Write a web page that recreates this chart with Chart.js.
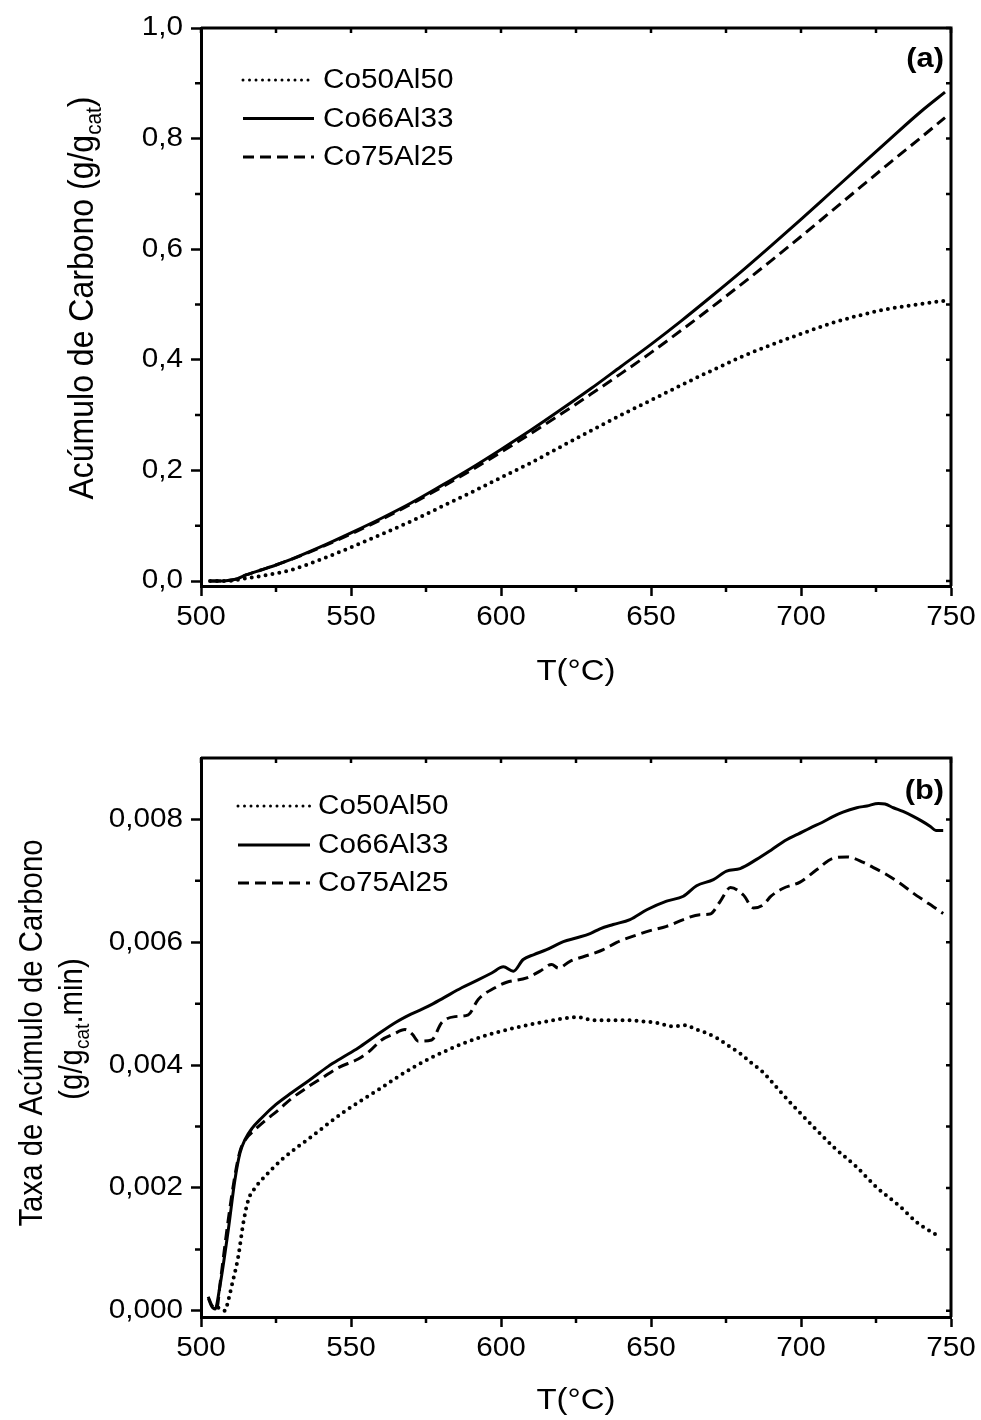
<!DOCTYPE html>
<html>
<head>
<meta charset="utf-8">
<script src="https://cdn.jsdelivr.net/npm/chart.js@4.4.0/dist/chart.umd.min.js"></script>
<style>
  body { margin: 0; background: #fff; }
  #wrap { position: relative; width: 981px; height: 1420px; }
  canvas { position: absolute; left: 0; }
</style>
</head>
<body>
<div id="wrap">
  <canvas id="chartA" width="981" height="710" style="top:0"></canvas>
  <canvas id="chartB" width="981" height="710" style="top:710px"></canvas>
</div>
<script>
const seriesNames = ['Co50Al50', 'Co66Al33', 'Co75Al25'];

// (a) carbon accumulation, g/g_cat vs T (°C)
const tempA = [503, 506, 509, 512, 515, 520, 525, 530, 540, 550, 560, 570, 580, 590, 600,
               610, 620, 630, 640, 650, 660, 670, 680, 690, 700, 710, 720, 730, 740, 748];
const accCo50 = [0, 0, 0, 0.002, 0.005, 0.009, 0.014, 0.020, 0.039, 0.061, 0.084, 0.108, 0.134, 0.160, 0.187,
                 0.214, 0.243, 0.272, 0.300, 0.327, 0.354, 0.380, 0.405, 0.427, 0.447, 0.466, 0.481, 0.493, 0.501, 0.507];
const accCo66 = [0, 0, 0.001, 0.004, 0.011, 0.020, 0.029, 0.039, 0.062, 0.087, 0.113, 0.141, 0.172, 0.204, 0.238,
                 0.273, 0.310, 0.348, 0.388, 0.428, 0.470, 0.514, 0.559, 0.606, 0.654, 0.703, 0.752, 0.801, 0.849, 0.884];
const accCo75 = [0, 0, 0.001, 0.004, 0.011, 0.020, 0.029, 0.039, 0.061, 0.085, 0.111, 0.139, 0.169, 0.200, 0.233,
                 0.267, 0.302, 0.338, 0.375, 0.413, 0.453, 0.494, 0.536, 0.579, 0.623, 0.668, 0.713, 0.758, 0.802, 0.838];

// (b) accumulation rate, g/(g_cat.min) vs T (°C)
const tempCo50 = [505.8, 507, 508, 509, 510.2, 512.4, 514.1, 515.8, 518, 520.2, 526.9, 536.9, 548, 559.1, 571.3,
                  582.4, 594.1, 604.1, 615.2, 625.8, 630.8, 637, 643, 647.4, 651.9, 657.4, 661.9, 664.1, 668.6, 672,
                  676.3, 680, 683.6, 687, 690.8, 694, 697.4, 704.1, 710.8, 718.6, 725.2, 733, 739.1, 743, 746.3];
const rateCo50 = [0.00005, 0.00001, 0.00000, 0.00015, 0.00040, 0.00088, 0.00143, 0.00181, 0.00200, 0.00213, 0.00246,
                  0.00284, 0.00325, 0.00360, 0.00398, 0.00425, 0.00447, 0.00460, 0.00471, 0.00478, 0.00473, 0.00473,
                  0.00473, 0.00471, 0.00469, 0.00463, 0.00465, 0.00460, 0.00452, 0.00444, 0.00430, 0.00418, 0.00403,
                  0.00390, 0.00370, 0.00352, 0.00334, 0.00300, 0.00267, 0.00234, 0.00201, 0.00170, 0.00142, 0.00130, 0.00120];

const tempCo66 = [502.5, 503.5, 504.7, 506.3, 509.1, 511.3, 513, 514.7, 517, 520.2, 525, 530.2, 536, 542.4, 547,
                  552.4, 558, 564.7, 570, 575.8, 581, 586.9, 592, 596.9, 600.8, 604.1, 607.4, 611, 615.2, 620.8,
                  625, 629.7, 633, 637.4, 643, 648.6, 655.2, 660.8, 665.2, 670.8, 675.2, 679.7, 685.2, 690, 695.2,
                  699, 703, 707, 710.8, 714, 718.6, 722, 725.8, 728, 730.8, 734, 737.4, 740, 743, 745, 747.4];
const rateCo66 = [0.00020, 0.00008, 0.00003, 0.00040, 0.00132, 0.00213, 0.00257, 0.00279, 0.00297, 0.00314, 0.00336,
                  0.00355, 0.00375, 0.00398, 0.00412, 0.00428, 0.00447, 0.00469, 0.00483, 0.00496, 0.00510, 0.00526,
                  0.00538, 0.00550, 0.00560, 0.00553, 0.00572, 0.00580, 0.00588, 0.00601, 0.00607, 0.00614, 0.00622,
                  0.00629, 0.00637, 0.00653, 0.00667, 0.00675, 0.00692, 0.00702, 0.00716, 0.00720, 0.00735, 0.00750,
                  0.00767, 0.00776, 0.00786, 0.00795, 0.00805, 0.00812, 0.00819, 0.00822, 0.00826, 0.00825, 0.00819,
                  0.00813, 0.00805, 0.00798, 0.00789, 0.00782, 0.00782];

const tempCo75 = [502.4, 503.5, 505.2, 506.5, 509, 511.3, 513, 515, 518, 521, 525.8, 530, 535.8, 540, 545.8, 552.4,
                  556, 560.2, 564, 568, 570.5, 572.4, 576.9, 580.2, 584.7, 589.1, 592.4, 598, 601.9, 608.6, 613,
                  616.9, 619.1, 623, 629.7, 634.1, 638.6, 644.1, 649.7, 655.2, 660.8, 666.3, 669.7, 673, 676.5,
                  680.8, 684.1, 687.4, 690, 694.1, 699.7, 705.2, 710.8, 715.2, 720.8, 724, 728.6, 733, 737.4, 741,
                  744.1, 747.4];
const rateCo75 = [0.00023, 0.00010, 0.00003, 0.00050, 0.00145, 0.00220, 0.00260, 0.00280, 0.00295, 0.00308, 0.00327,
                  0.00345, 0.00365, 0.00378, 0.00396, 0.00410, 0.00422, 0.00441, 0.00450, 0.00458, 0.00450, 0.00439,
                  0.00441, 0.00469, 0.00479, 0.00482, 0.00507, 0.00526, 0.00535, 0.00542, 0.00553, 0.00564, 0.00558,
                  0.00569, 0.00580, 0.00588, 0.00600, 0.00610, 0.00619, 0.00626, 0.00637, 0.00645, 0.00646, 0.00666,
                  0.00689, 0.00677, 0.00656, 0.00661, 0.00675, 0.00688, 0.00698, 0.00718, 0.00737, 0.00739, 0.00730,
                  0.00722, 0.00710, 0.00696, 0.00680, 0.00668, 0.00658, 0.00647];

const xTicks = { min: 500, max: 750, step: 50, minor: [525, 575, 625, 675, 725] };
const yTicksA = { min: -0.009, max: 1.0, step: 0.2, minor: [0.1, 0.3, 0.5, 0.7, 0.9] };
const yTicksB = { min: -0.0001, max: 0.009, step: 0.002, minor: [0.001, 0.003, 0.005, 0.007] };

const FONT = "'Liberation Sans', Arial, sans-serif";
const SX = 1.1; // the original figure's text is slightly wide

function pairs(xs, ys) {
  return xs.map((x, i) => ({ x: x, y: ys[i] }));
}

const lineStyles = [
  { borderDash: [0, 7], borderWidth: 4, borderCapStyle: 'round' },   // dotted
  { borderDash: [], borderWidth: 3, borderCapStyle: 'butt' },        // solid
  { borderDash: [11, 6], borderWidth: 3, borderCapStyle: 'butt' }    // dashed
];

function makeDatasets(lists) {
  return lists.map((pts, i) => Object.assign({
    label: seriesNames[i],
    data: pts,
    borderColor: '#000',
    pointRadius: 0,
    cubicInterpolationMode: 'monotone',
    fill: false
  }, lineStyles[i]));
}

function wideText(ctx, text, x, y, align, font) {
  ctx.save();
  ctx.translate(x, y);
  ctx.scale(SX, 1);
  ctx.font = font;
  ctx.textAlign = align;
  ctx.fillText(text, 0, 0);
  ctx.restore();
}

// label with optional subscript, centred on (x, y), optionally rotated
function richText(ctx, parts, size, x, y, rotate) {
  ctx.save();
  ctx.translate(x, y);
  if (rotate) { ctx.rotate(-Math.PI / 2); ctx.scale(1, SX); } else ctx.scale(SX, 1);
  ctx.textBaseline = 'alphabetic';
  ctx.textAlign = 'left';
  let total = 0;
  parts.forEach(p => {
    ctx.font = (p.sub ? size * 0.65 : size) + 'px ' + FONT;
    total += ctx.measureText(p.t).width;
  });
  let pos = -total / 2;
  parts.forEach(p => {
    ctx.font = (p.sub ? size * 0.65 : size) + 'px ' + FONT;
    ctx.fillText(p.t, pos, p.sub ? size * 0.22 : 0);
    pos += ctx.measureText(p.t).width;
  });
  ctx.restore();
}

// frame, minor/inward ticks, tick labels, titles, legend and panel tag
function makeDecor(o) {
  return {
    id: 'decor',
    afterDraw(chart) {
      const { ctx, chartArea: a, scales: { x, y } } = chart;
      ctx.save();
      ctx.strokeStyle = '#000';
      ctx.fillStyle = '#000';
      ctx.lineWidth = 3;
      ctx.beginPath();
      ctx.moveTo(a.left, a.top);
      ctx.lineTo(a.right, a.top);
      ctx.lineTo(a.right, a.bottom);
      ctx.stroke();

      ctx.lineWidth = 2.5;
      ctx.beginPath();
      o.xMinor.forEach(v => {
        const px = x.getPixelForValue(v);
        ctx.moveTo(px, a.bottom); ctx.lineTo(px, a.bottom + 6);
      });
      o.yMinor.forEach(v => {
        const py = y.getPixelForValue(v);
        ctx.moveTo(a.left, py); ctx.lineTo(a.left - 6, py);
      });
      x.ticks.map(t => t.value).concat(o.xMinor).forEach(v => {
        const px = x.getPixelForValue(v);
        ctx.moveTo(px, a.top); ctx.lineTo(px, a.top + 5);
      });
      y.ticks.map(t => t.value).concat(o.yMinor).forEach(v => {
        const py = y.getPixelForValue(v);
        ctx.moveTo(a.right, py); ctx.lineTo(a.right - 5, py);
      });
      ctx.stroke();

      // tick labels
      const tf = '27px ' + FONT;
      ctx.textBaseline = 'middle';
      x.ticks.forEach(t => wideText(ctx, String(t.value), x.getPixelForValue(t.value), a.bottom + 32, 'center', tf));
      y.ticks.forEach(t => wideText(ctx, o.fmt(t.value), a.left - 18, y.getPixelForValue(t.value), 'right', tf));

      // legend
      chart.data.datasets.forEach((ds, i) => {
        const ly = o.legend.y[i];
        ctx.save();
        ctx.lineWidth = i === 0 ? 3 : ds.borderWidth;
        ctx.lineCap = ds.borderCapStyle;
        ctx.setLineDash(i === 0 ? [0, 6.5] : ds.borderDash);
        ctx.beginPath();
        ctx.moveTo(o.legend.x0, ly);
        ctx.lineTo(o.legend.x1, ly);
        ctx.stroke();
        ctx.restore();
        wideText(ctx, ds.label, o.legend.tx, ly + 1, 'left', tf);
      });

      // panel tag
      ctx.textBaseline = 'alphabetic';
      wideText(ctx, o.tag.text, o.tag.x, o.tag.y, 'right', 'bold 28px ' + FONT);

      // axis titles
      richText(ctx, [{ t: 'T(°C)' }], 30, (a.left + a.right) / 2, o.xTitleY, false);
      o.yTitles.forEach(tl => richText(ctx, tl.parts, tl.size, tl.x, tl.cy, true));
      ctx.restore();
    }
  };
}

function buildOptions(yt, xHeight, padTop) {
  return {
    responsive: false,
    animation: false,
    devicePixelRatio: 1,
    layout: { padding: { top: padTop, right: 30, left: 0, bottom: 0 } },
    plugins: { legend: { display: false }, tooltip: { enabled: false } },
    scales: {
      x: {
        type: 'linear',
        min: xTicks.min, max: xTicks.max,
        ticks: { stepSize: xTicks.step, display: false },
        grid: { drawOnChartArea: false, drawTicks: true, tickLength: 10, tickWidth: 2.5, tickColor: '#000' },
        border: { display: true, color: '#000', width: 3 },
        afterFit(s) { s.height = xHeight; }
      },
      y: {
        type: 'linear',
        min: yt.min, max: yt.max,
        ticks: { stepSize: yt.step, includeBounds: false, display: false },
        grid: { drawOnChartArea: false, drawTicks: true, tickLength: 10, tickWidth: 2.5, tickColor: '#000' },
        border: { display: true, color: '#000', width: 3 },
        afterFit(s) { s.width = 201; }
      }
    }
  };
}

new Chart(document.getElementById('chartA'), {
  type: 'line',
  data: {
    datasets: makeDatasets([pairs(tempA, accCo50), pairs(tempA, accCo66), pairs(tempA, accCo75)])
  },
  options: buildOptions(yTicksA, 124, 28),
  plugins: [makeDecor({
    fmt: v => v.toFixed(1).replace('.', ','),
    xMinor: xTicks.minor, yMinor: yTicksA.minor,
    legend: { x0: 243, x1: 314, tx: 323, y: [80, 118.5, 157] },
    tag: { text: '(a)', x: 944, y: 67 },
    xTitleY: 680,
    yTitles: [
      { parts: [{ t: 'Acúmulo de Carbono (g/g' }, { t: 'cat', sub: true }, { t: ')' }], size: 32, x: 93, cy: 298 }
    ]
  })]
});

new Chart(document.getElementById('chartB'), {
  type: 'line',
  data: {
    datasets: makeDatasets([pairs(tempCo50, rateCo50), pairs(tempCo66, rateCo66), pairs(tempCo75, rateCo75)])
  },
  options: buildOptions(yTicksB, 103, 48),
  plugins: [makeDecor({
    fmt: v => v.toFixed(3).replace('.', ','),
    xMinor: xTicks.minor, yMinor: yTicksB.minor,
    legend: { x0: 238, x1: 310, tx: 318, y: [96, 135, 173] },
    tag: { text: '(b)', x: 944, y: 89 },
    xTitleY: 699,
    yTitles: [
      { parts: [{ t: 'Taxa de Acúmulo de Carbono' }], size: 29.4, x: 42, cy: 323 },
      { parts: [{ t: '(g/g' }, { t: 'cat', sub: true }, { t: '.min)' }], size: 29.4, x: 82, cy: 319 }
    ]
  })]
});
</script>
</body>
</html>
